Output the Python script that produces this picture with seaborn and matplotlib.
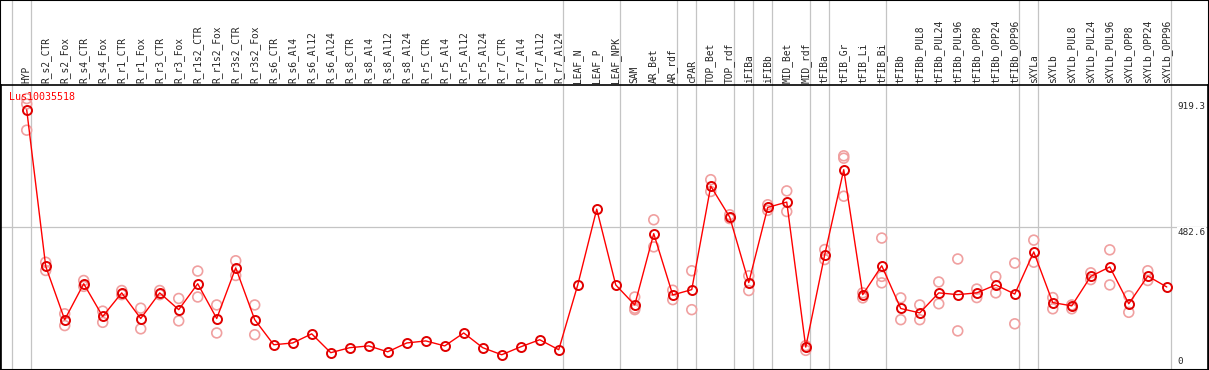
import numpy as np
import pandas as pd
import matplotlib
matplotlib.use('Agg')
import matplotlib.pyplot as plt
from matplotlib.patches import Rectangle
import seaborn as sns

sns.set_style('white')
plt.rcParams['font.family'] = ['DejaVu Sans Mono', 'DejaVu Sans']

gene = 'Lus10035518'

samples = ['HYP', 'R_s2_CTR', 'R_s2_Fox', 'R_s4_CTR', 'R_s4_Fox', 'R_r1_CTR', 'R_r1_Fox',
           'R_r3_CTR', 'R_r3_Fox', 'R_r1s2_CTR', 'R_r1s2_Fox', 'R_r3s2_CTR', 'R_r3s2_Fox',
           'R_s6_CTR', 'R_s6_Al4', 'R_s6_Al12', 'R_s6_Al24', 'R_s8_CTR', 'R_s8_Al4',
           'R_s8_Al12', 'R_s8_Al24', 'R_r5_CTR', 'R_r5_Al4', 'R_r5_Al12', 'R_r5_Al24',
           'R_r7_CTR', 'R_r7_Al4', 'R_r7_Al12', 'R_r7_Al24', 'LEAF_N', 'LEAF_P', 'LEAF_NPK',
           'SAM', 'AR_Bet', 'AR_rdf', 'cPAR', 'TOP_Bet', 'TOP_rdf', 'iFIBa', 'iFIBb',
           'MID_Bet', 'MID_rdf', 'tFIBa', 'tFIB_Gr', 'tFIB_Li', 'tFIB_Bi', 'tFIBb',
           'tFIBb_PUL8', 'tFIBb_PUL24', 'tFIBb_PUL96', 'tFIBb_OPP8', 'tFIBb_OPP24', 'tFIBb_OPP96',
           'sXYLa', 'sXYLb', 'sXYLb_PUL8', 'sXYLb_PUL24', 'sXYLb_PUL96', 'sXYLb_OPP8',
           'sXYLb_OPP24', 'sXYLb_OPP96']

mean_expr = [881, 350, 169, 291, 180, 260, 173, 260, 203, 291, 173, 345, 169,
             84, 90, 121, 57, 74, 80, 60, 90, 97, 80, 124, 74, 50, 77, 101, 67,
             287, 544, 287, 219, 461, 253, 271, 622, 517, 295, 550, 568, 76, 390,
             678, 254, 352, 207, 192, 260, 254, 260, 287, 256, 399, 227, 216, 316,
             348, 223, 317, 280]

replicates = [[919.3, 901, 812], [364, 336], [189, 149], [302, 282], [198, 160],
              [268, 254], [208, 138], [268, 254], [241, 165], [334, 246], [219, 124],
              [369, 319], [219, 118],
              [], [], [], [], [], [], [], [], [], [], [], [], [], [], [], [], [], [], [],
              [246, 208, 203], [508, 416], [269, 237], [335, 203], [644, 604], [525, 512],
              [318, 268], [559, 540], [606, 536], [81, 65], [407, 373], [725, 717, 588],
              [260, 243], [446, 316, 294], [243, 169], [219, 169], [297, 223], [375, 131],
              [273, 244], [315, 260], [361, 155], [439, 364], [244, 206], [219, 206],
              [328, 305], [406, 287], [250, 194], [335, 302], []]

yticks = [0, 482.6, 919.3]
group_breaks = ['', 'HYP', 'R_r7_Al24', 'LEAF_NPK', 'AR_rdf', 'cPAR', 'TOP_rdf', 'iFIBa',
                'iFIBb', 'MID_rdf', 'tFIBa', 'tFIB_Bi', 'tFIBb_OPP96', 'sXYLa', 'sXYLb_OPP96']

pos = np.arange(len(samples))
df_mean = pd.DataFrame({'pos': pos, 'value': mean_expr})
df_rep = pd.DataFrame([(i, v) for i, reps in enumerate(replicates) for v in reps],
                      columns=['pos', 'value'])

fig = plt.figure(figsize=(12.09, 3.70), dpi=100)
ax = fig.add_axes([1 / 1209, 0.5 / 370, 1207 / 1209, 284.5 / 370])

# gray separators, running up through the label band
for name in group_breaks:
    idx = samples.index(name) if name else -1
    ax.axvline(idx + 0.21, ymin=0, ymax=1 + 85 / 284.5, color='#c4c4c4', lw=0.9,
               clip_on=False, zorder=0)
ax.axhline(yticks[1], color='#c4c4c4', lw=0.9, zorder=0)

sns.scatterplot(data=df_rep, x='pos', y='value', marker='o', s=50, facecolor='none',
                edgecolor='#f0a0a0', linewidth=1.2, ax=ax, zorder=2)
sns.lineplot(data=df_mean, x='pos', y='value', color='red', lw=1.0, marker='o',
             markersize=6.5, markerfacecolor='none', markeredgecolor='#e00000',
             markeredgewidth=1.4, ax=ax, zorder=3)

ax.set_xlim(-1.353, 62.17)
ax.set_ylim(0, yticks[-1] * 1.05)
ax.xaxis.tick_top()
ax.set_xticks(pos)
ax.set_xticklabels(samples, rotation=90, fontsize=6.9)
ax.tick_params(axis='x', length=0, pad=1.5)
ax.set_yticks([])
ax.set_xlabel('')
ax.set_ylabel('')
for s in ax.spines.values():
    s.set_color('black')
    s.set_linewidth(1.2)

# value labels at the right edge
offsets = [6, -3.5, -5.8]
for v, off in zip(yticks, offsets):
    ax.annotate(f'{v:g}', xy=(60.55, v), xycoords='data', xytext=(0, off),
                textcoords='offset points', va='center', ha='left', fontsize=6.7,
                bbox=dict(facecolor='white', edgecolor='none', pad=0.3))

ax.annotate(gene, xy=(0, 1), xycoords='axes fraction', xytext=(6, -8.4),
            textcoords='offset points', va='center', ha='left', color='red', fontsize=7.2)

fig.patches.append(Rectangle((0, 0), 1, 1, transform=fig.transFigure, fill=False,
                             edgecolor='black', lw=1.5))

fig.savefig('out.png', dpi=100, facecolor='white')
